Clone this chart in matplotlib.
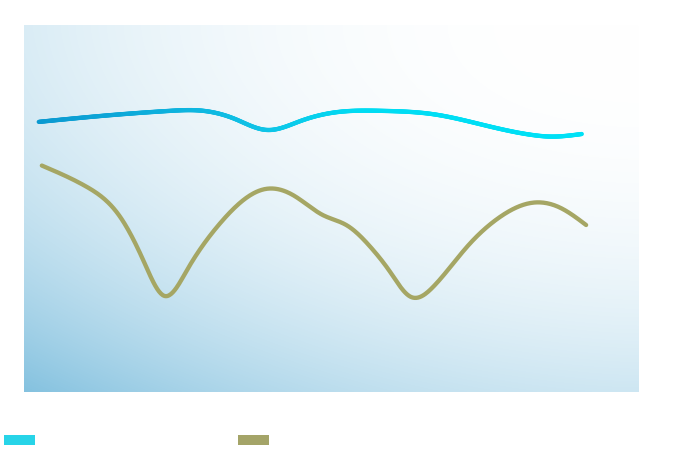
import numpy as np
import matplotlib
matplotlib.use("Agg")
import matplotlib.pyplot as plt
from matplotlib.collections import LineCollection
from matplotlib.colors import LinearSegmentedColormap
from matplotlib.patches import Patch

# Values (x: 0-100 across the plot, y: 0-100 up)
blue_x = [2.4, 12.4, 23.7, 28.6, 34.3, 39.5, 44.9, 50.2,
          58.4, 66.5, 74.6, 82.8, 85.5, 90.7]
blue_y = [73.6, 75.2, 76.6, 76.7, 74.4, 71.4, 73.8, 76.1,
          76.6, 75.7, 72.8, 70.0, 69.6, 70.3]

olive_x = [2.9, 10.2, 15.6, 19.5, 22.8, 26.5, 31.9, 39.2, 44.0,
           48.6, 52.5, 56.5, 59.5, 62.8, 66.5, 72.0, 77.4, 82.8,
           87.2, 91.4]
olive_y = [61.7, 55.9, 47.8, 35.5, 26.2, 33.2, 46.0, 55.3, 53.4,
           48.2, 45.4, 39.2, 32.8, 26.0, 28.6, 39.5, 47.7, 51.6,
           50.2, 45.5]

legend_colors = ["#27d4e8", "#a4a468"]


def smooth(xs, ys, n=600):
    # natural cubic spline through the points, only for drawing
    x = np.asarray(xs, float)
    y = np.asarray(ys, float)
    k = len(x)
    h = np.diff(x)
    A = np.zeros((k, k))
    r = np.zeros(k)
    A[0, 0] = A[-1, -1] = 1
    for i in range(1, k - 1):
        A[i, i - 1] = h[i - 1]
        A[i, i] = 2 * (h[i - 1] + h[i])
        A[i, i + 1] = h[i]
        r[i] = 6 * ((y[i + 1] - y[i]) / h[i] - (y[i] - y[i - 1]) / h[i - 1])
    m = np.linalg.solve(A, r)
    xx = np.linspace(x[0], x[-1], n)
    idx = np.clip(np.searchsorted(x, xx) - 1, 0, k - 2)
    x0, x1 = x[idx], x[idx + 1]
    hh = x1 - x0
    a = (x1 - xx) / hh
    b = (xx - x0) / hh
    yy = (a * y[idx] + b * y[idx + 1]
          + ((a ** 3 - a) * m[idx] + (b ** 3 - b) * m[idx + 1]) * hh ** 2 / 6)
    return xx, yy


fig = plt.figure(figsize=(6.92, 4.49), dpi=100)
ax = fig.add_axes([24 / 692, 57 / 449, 615 / 692, 367 / 449])
ax.set_xlim(0, 100)
ax.set_ylim(0, 100)
ax.axis("off")

# background gradient: blue in the lower left fading to white top right
u = np.linspace(0, 1, 300)[None, :]
v = np.linspace(0, 1, 200)[:, None]
f = 0.31 * (1 - u) ** 2.5 + 0.41 * v ** 2.5 + 0.30 * ((1 - u) * v) ** 1.5
deficit = np.array([120, 60, 31]) / 255.0
img = 1 - f[:, :, None] * deficit[None, None, :]
ax.imshow(np.clip(img, 0, 1), extent=[0, 100, 0, 100], origin="upper",
          aspect="auto", zorder=0, interpolation="bilinear")

# blue line with colour shift along x
bx, by = smooth(blue_x, blue_y)
pts = np.column_stack([bx, by]).reshape(-1, 1, 2)
segs = np.concatenate([pts[:-1], pts[1:]], axis=1)
cmap = LinearSegmentedColormap.from_list(
    "bl", [(0, "#0a96cf"), (0.38, "#10c2e6"), (0.55, "#00dcf3"), (1, "#00e2f7")])
lc = LineCollection(segs, cmap=cmap, norm=plt.Normalize(0, 100),
                    linewidth=3.1, capstyle="round", joinstyle="round", zorder=3)
lc.set_array(0.5 * (segs[:, 0, 0] + segs[:, 1, 0]))
ax.add_collection(lc)

ox, oy = smooth(olive_x, olive_y)
ax.plot(ox, oy, color="#a5a664", linewidth=3.1, solid_capstyle="round", zorder=3)

# legend swatches (no visible labels in the reference)
for i, c in enumerate(legend_colors):
    fig.legend(handles=[Patch(facecolor=c, edgecolor="none")], labels=[""],
               loc="lower left", bbox_to_anchor=([4, 238][i] / 692, 1 / 449),
               frameon=False, borderpad=0, borderaxespad=0, handletextpad=0,
               handlelength=2.23, handleheight=0.65, fontsize=10)

fig.savefig("out.png", dpi=100)
